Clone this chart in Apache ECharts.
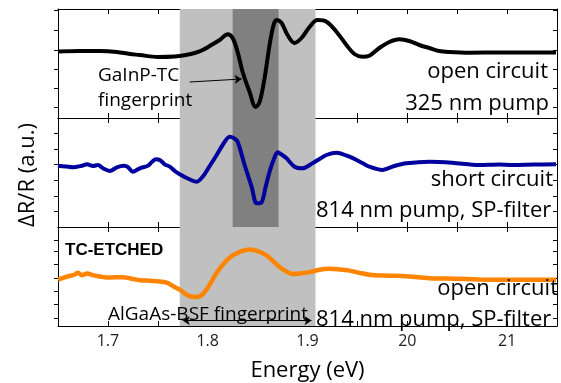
<!DOCTYPE html>
<html>
<head>
<meta charset="utf-8">
<script src="https://cdn.jsdelivr.net/npm/echarts@6/dist/echarts.min.js"></script>
<style>html,body{margin:0;padding:0;background:#fff}#c{width:561px;height:383px}</style>
</head>
<body>
<div id="c"></div>
<script>
// ---- data (ΔR/R, arbitrary units, each panel centred on its own baseline) ----
const energyOpen325 = [1.650,1.672,1.692,1.709,1.722,1.732,1.750,1.767,1.778,1.787,1.795,1.802,1.812,1.820,1.825,1.830,1.835,1.842,1.848,1.852,1.857,1.862,1.866,1.869,1.874,1.880,1.887,1.894,1.902,1.910,1.919,1.929,1.939,1.947,1.955,1.962,1.972,1.982,1.992,2.002,2.012,2.022,2.032,2.042,2.062,2.092,2.122,2.149];
const drOpen325 = [0.05,0.1,0.1,0,-0.2,-0.3,-0.5,-0.45,-0.3,-0.1,0.2,0.6,1.2,1.77,1.4,0,-2.0,-4.0,-5.5,-5.0,-2.6,0.7,2.7,3.2,2.9,1.7,0.9,1.4,2.5,3.2,3.03,2.03,0.7,-0.2,-0.47,-0.37,0.4,1.0,1.27,1.1,0.7,0.4,0.1,0,-0.07,-0.05,-0.05,-0.05];

const energyShort814 = [1.650,1.658,1.665,1.674,1.679,1.685,1.690,1.695,1.702,1.709,1.716,1.720,1.725,1.732,1.740,1.744,1.748,1.752,1.757,1.762,1.767,1.772,1.780,1.789,1.795,1.802,1.809,1.815,1.822,1.826,1.830,1.837,1.844,1.849,1.854,1.858,1.862,1.866,1.870,1.874,1.879,1.887,1.895,1.905,1.912,1.919,1.929,1.942,1.955,1.962,1.975,1.987,1.999,2.022,2.045,2.072,2.092,2.105,2.127,2.149];
const drShort814 = [-0.07,-0.15,-0.23,-0.07,0.07,-0.1,0,-0.33,-0.6,-0.23,-0.07,-0.2,-0.67,-0.33,-0.07,0.3,0.57,0.5,0.07,-0.17,-0.6,-0.93,-1.35,-1.67,-1.17,-0.1,1.0,2.0,2.83,2.7,2.33,0,-2.17,-3.83,-3.73,-2.2,-0.67,0.5,1.27,1.05,0.67,-0.17,-0.33,0.17,0.6,1.0,1.23,0.83,0.2,-0.17,-0.5,-0.1,0.17,0.33,0.23,0,0.05,0,0.05,0.07];

const energyEtched = [1.650,1.659,1.667,1.670,1.674,1.679,1.685,1.692,1.699,1.707,1.715,1.724,1.732,1.740,1.749,1.759,1.765,1.772,1.782,1.790,1.795,1.800,1.809,1.817,1.825,1.833,1.842,1.850,1.859,1.865,1.872,1.878,1.885,1.892,1.902,1.912,1.922,1.932,1.942,1.952,1.962,1.977,1.989,2.002,2.022,2.047,2.072,2.102,2.149];
const drEtched = [-0.2,0.13,0.37,0.57,0.3,0.47,0.3,0.15,0.03,0.07,0.07,-0.1,-0.27,-0.3,-0.37,-0.53,-0.9,-1.3,-2.03,-2.1,-1.8,-1.1,0.55,1.7,2.47,2.9,3.13,2.95,2.47,1.9,1.2,0.75,0.43,0.47,0.63,0.9,1.0,0.93,0.8,0.55,0.35,0.25,0.23,0.15,-0.03,-0.1,-0.17,-0.2,-0.2];

const xTickValues = [1.7, 1.8, 1.9, 2.0, 2.1];
const xTickLabels = ['1.7', '1.8', '1.9', '20', '21'];
const yTicksTop = [-5.5, -3.6, -1.7, 0.2, 2.2, 4.2];
const yTicksMid = [-4.6, -3.1, -1.5, 0.05, 1.6, 3.2];
const yTicksBot = [-4.4, -2.9, -1.5, 0, 1.5, 2.9, 4.1];
const yRanges = [[-6.6, 4.3], [-6.2, 4.7], [-5.3, 5.6]];
const lightBand = [1.772, 1.908];
const darkBand = [1.825, 1.871];

// ---- chart ----
const chart = echarts.init(document.getElementById('c'), null, {renderer: 'canvas'});
const FONT = '"Open Sans", "Noto Sans", sans-serif';
const grids = [0, 1, 2].map(i => ({left: 58, right: 4, top: 9 + 109 * i, height: 109}));

const xAxes = [];
grids.forEach((g, i) => {
  const base = {
    type: 'value', gridIndex: i, min: 1.65, max: 2.15, interval: 0.05,
    axisLine: {show: true, onZero: false, lineStyle: {color: '#000', width: 1}},
    axisTick: {show: true, inside: true, length: 5, lineStyle: {color: '#000'}},
    splitLine: {show: false}
  };
  xAxes.push(Object.assign({}, base, {
    position: 'bottom',
    axisLabel: {
      show: i === 2, margin: 7, color: '#222', fontSize: 16, fontFamily: FONT,
      formatter: v => {
        const k = xTickValues.findIndex(t => Math.abs(t - v) < 1e-6);
        return k >= 0 ? xTickLabels[k] : '';
      }
    },
    name: i === 2 ? 'Energy (eV)' : '', nameLocation: 'middle', nameGap: 34,
    nameTextStyle: {fontSize: 22, fontFamily: FONT, color: '#000'}
  }));
  xAxes.push(Object.assign({}, base, {position: 'top', axisLabel: {show: false}}));
});

const tickSets = [yTicksTop, yTicksMid, yTicksBot];
const yAxes = [];
grids.forEach((g, i) => {
  const base = {
    type: 'value', gridIndex: i, min: yRanges[i][0], max: yRanges[i][1],
    axisLine: {show: true, onZero: false, lineStyle: {color: '#000', width: 1}},
    axisLabel: {show: false}, splitLine: {show: false}
  };
  yAxes.push(Object.assign({}, base, {position: 'left',
    axisTick: {show: true, inside: false, length: 4, customValues: tickSets[i], lineStyle: {color: '#000'}}}));
  yAxes.push(Object.assign({}, base, {position: 'right',
    axisTick: {show: true, inside: true, length: 4, customValues: tickSets[i], lineStyle: {color: '#000'}}}));
});

function bands(withDark) {
  const d = [[{xAxis: lightBand[0], itemStyle: {color: '#c0c0c0'}}, {xAxis: lightBand[1]}]];
  if (withDark) d.push([{xAxis: darkBand[0], itemStyle: {color: '#808080'}}, {xAxis: darkBand[1]}]);
  return {silent: true, data: d, itemStyle: {opacity: 1}};
}
const zip = (xs, ys) => xs.map((x, k) => [x, ys[k]]);

const series = [
  {
    type: 'line', xAxisIndex: 0, yAxisIndex: 0, data: zip(energyOpen325, drOpen325),
    showSymbol: false, symbol: 'none', smooth: 0.35,
    lineStyle: {color: '#000', width: 4}, markArea: bands(true),
    markLine: {silent: true, symbol: ['none', 'arrow'], symbolSize: 7, label: {show: false},
      lineStyle: {color: '#000', width: 1, type: 'solid'},
      data: [[{coord: [1.782, -3.0]}, {coord: [1.834, -2.7]}]]}
  },
  {
    type: 'line', xAxisIndex: 2, yAxisIndex: 2, data: zip(energyShort814, drShort814),
    showSymbol: false, symbol: 'none', smooth: 0.3,
    lineStyle: {color: '#00009c', width: 4}, markArea: bands(true)
  },
  {
    type: 'line', xAxisIndex: 4, yAxisIndex: 4, data: zip(energyEtched, drEtched),
    showSymbol: false, symbol: 'none', smooth: 0.35,
    lineStyle: {color: '#ff8500', width: 4.5}, markArea: bands(false),
    markLine: {silent: true, symbol: ['arrow', 'arrow'], symbolSize: 7, label: {show: false},
      lineStyle: {color: '#000', width: 1, type: 'solid'},
      data: [[{coord: [1.775, -4.7]}, {coord: [1.904, -4.7]}]]}
  }
];

function txt(text, x, y, align, size, extra) {
  return {type: 'text', x: x, y: y, z: 100,
    style: Object.assign({text: text, align: align, verticalAlign: 'middle', fill: '#000',
      font: size + 'px ' + FONT}, extra || {})};
}

const graphic = [
  txt('open circuit', 548, 72, 'right', 22),
  txt('325 nm pump', 549, 104, 'right', 22),
  txt('short circuit', 553, 180, 'right', 22),
  txt('814 nm pump, SP-filter', 316, 211, 'left', 22),
  txt('open circuit', 558, 289, 'right', 22),
  txt('814 nm pump, SP-filter', 316, 320, 'left', 22),
  txt('GaInP-TC', 98, 76, 'left', 19),
  txt('fingerprint', 98, 101, 'left', 19),
  txt('AlGaAs-BSF fingerprint', 108, 315, 'left', 19),
  {type: 'text', x: 65, y: 250, z: 100,
    style: {text: 'TC-ETCHED', align: 'left', verticalAlign: 'middle', fill: '#000',
      font: 'bold 17px "Liberation Sans", Arial, sans-serif'}},
  {type: 'text', x: 28, y: 175, rotation: Math.PI / 2, z: 100,
    style: {text: 'ΔR/R (a.u.)', align: 'center', verticalAlign: 'middle', fill: '#000',
      font: '22px ' + FONT}}
];

chart.setOption({
  animation: false,
  backgroundColor: '#fff',
  grid: grids,
  xAxis: xAxes,
  yAxis: yAxes,
  series: series,
  graphic: graphic
});
</script>
</body>
</html>
